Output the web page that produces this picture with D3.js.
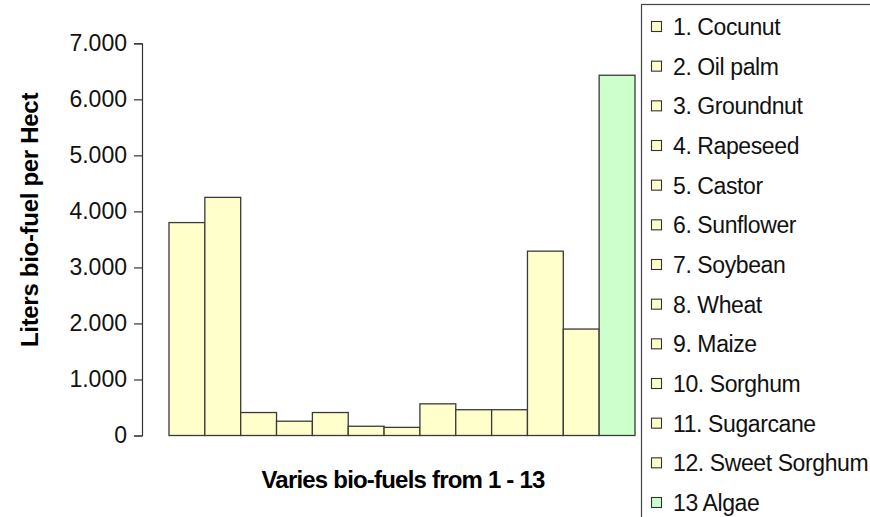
<!DOCTYPE html>
<html>
<head>
<meta charset="utf-8">
<script src="https://cdn.jsdelivr.net/npm/d3@7"></script>
<style>
  body { margin: 0; background: #fff; }
  svg { display: block; font-family: "Liberation Sans", Arial, sans-serif; }
</style>
</head>
<body>
<div id="chart"></div>
<script>
"use strict";

// data
const fuels = ["1. Cocunut", "2. Oil palm", "3. Groundnut", "4. Rapeseed", "5. Castor",
  "6. Sunflower", "7. Soybean", "8. Wheat", "9. Maize", "10. Sorghum", "11. Sugarcane",
  "12. Sweet Sorghum", "13 Algae"];
const liters = [3800, 4250, 410, 255, 410, 165, 145, 565, 460, 460, 3290, 1900, 6430];
const yTicks = [0, 1000, 2000, 3000, 4000, 5000, 6000, 7000];

const width = 870, height = 517;
const yellow = "#ffffcc", green = "#ccffcc";
let colorFn = function(d, i) { return i === fuels.length - 1 ? green : yellow; };

// european style thousands: 7.000
const loc = d3.formatLocale({ decimal: ",", thousands: ".", grouping: [3], currency: ["", ""] });

const svg = d3.select("#chart").append("svg")
  .attr("width", width)
  .attr("height", height);

const x = d3.scaleBand()
  .domain(d3.range(fuels.length))
  .range([169, 635])
  .padding(0);

const y = d3.scaleLinear()
  .domain([0, 7000])
  .range([435.5, 43.3]);

// bars
svg.append("g").selectAll("rect").data(liters)
  .enter().append("rect")
    .attr("x", function(d, i) { return x(i); })
    .attr("y", function(d) { return y(d); })
    .attr("width", x.bandwidth())
    .attr("height", function(d) { return y(0) - y(d); })
    .style("fill", colorFn)
    .style("stroke", "#3a3a3a")
    .style("stroke-width", 1.3);

// y axis
const yAxis = svg.append("g")
  .attr("transform", "translate(142,0)")
  .call(d3.axisLeft(y).tickValues(yTicks).tickSize(8).tickPadding(7).tickFormat(loc.format(",")));
yAxis.select(".domain").attr("stroke", "#333").attr("stroke-width", 1.2);
yAxis.selectAll(".tick line").attr("stroke", "#333").attr("stroke-width", 1.2);
yAxis.selectAll(".tick text")
  .attr("fill", "#111")
  .style("font-size", "23px")
  .style("font-family", "'Liberation Sans', Arial, sans-serif");

// axis titles
svg.append("text")
  .attr("transform", "translate(38,220) rotate(-90)")
  .attr("text-anchor", "middle")
  .style("font-size", "24px")
  .style("font-weight", "bold")
  .style("letter-spacing", "-0.3px")
  .text("Liters bio-fuel per Hect");

svg.append("text")
  .attr("x", 403)
  .attr("y", 488)
  .attr("text-anchor", "middle")
  .style("font-size", "24px")
  .style("font-weight", "bold")
  .style("letter-spacing", "-0.8px")
  .text("Varies bio-fuels from 1 - 13");

// legend
const legend = svg.append("g");
legend.append("rect")
  .attr("x", 641.5).attr("y", 4.5)
  .attr("width", 260).attr("height", 600)
  .style("fill", "#fff")
  .style("stroke", "#444")
  .style("stroke-width", 1.2);

const rowY = d3.scaleLinear().domain([0, fuels.length - 1]).range([35, 511]);

const items = legend.selectAll("g.item").data(fuels)
  .enter().append("g")
    .attr("class", "item")
    .attr("transform", function(d, i) { return "translate(0," + rowY(i) + ")"; });

items.append("rect")
  .attr("x", 651.5).attr("y", -13.5)
  .attr("width", 10).attr("height", 10)
  .style("fill", colorFn)
  .style("stroke", "#333")
  .style("stroke-width", 1.1);

items.append("text")
  .attr("x", 673)
  .attr("y", 0)
  .style("font-size", "23px")
  .style("letter-spacing", "-0.4px")
  .style("fill", "#111")
  .text(function(d) { return d; });
</script>
</body>
</html>
